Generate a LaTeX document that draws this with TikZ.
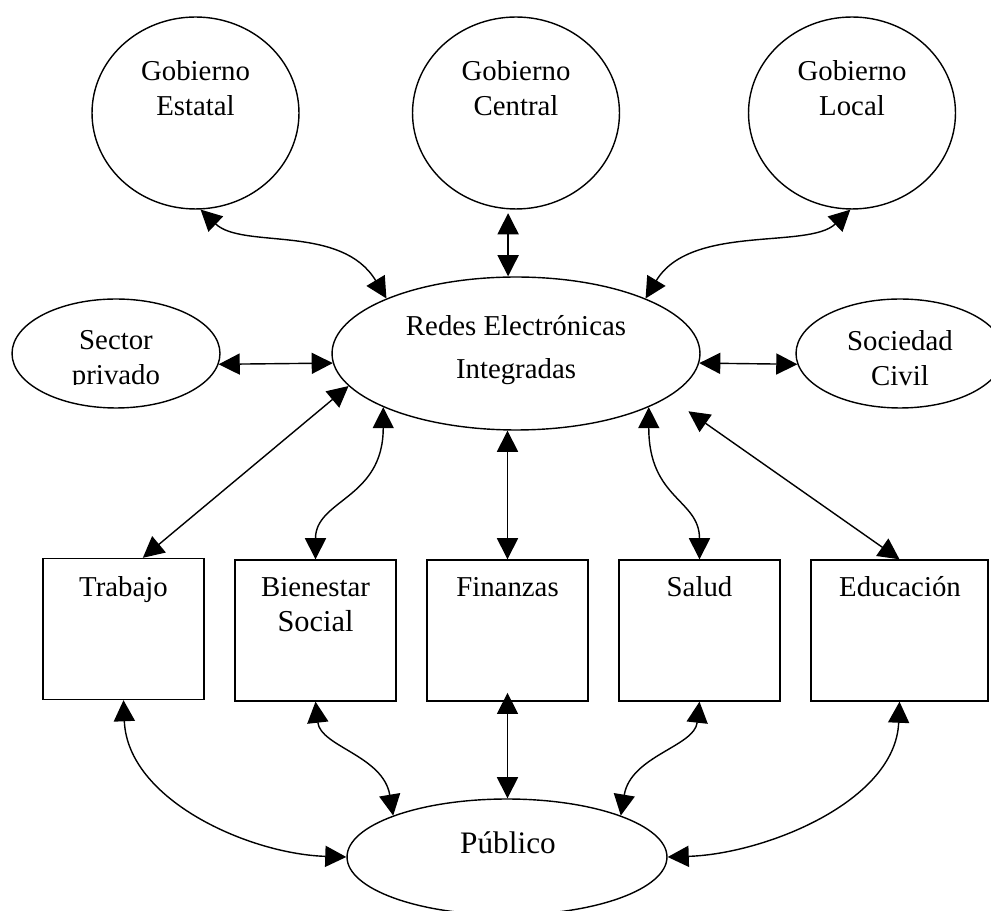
\documentclass[tikz,border=0pt]{standalone}
\usepackage{fontspec}
\setmainfont{Liberation Serif}
\usetikzlibrary{shapes.geometric,arrows.meta}
\begin{document}
\begin{tikzpicture}[x=0.02cm, y=-0.02cm, line width=0.8pt,
  >={Triangle[length=12pt,width=12pt]},
  gov/.style={draw, ellipse, inner sep=0pt,
              minimum width=4.14cm, minimum height=3.84cm},
  side/.style={draw, ellipse, inner sep=0pt,
               minimum width=4.16cm, minimum height=2.18cm},
  dept/.style={draw, rectangle, inner sep=0pt,
               minimum width=3.22cm, minimum height=2.82cm},
  lbl/.style={inner sep=0pt, align=center,
              font=\fontsize{16.4}{19.8}\selectfont},
  link/.style={<->}
]
\useasboundingbox (0,0) rectangle (991,911);
\node[gov] (gest) at (195.5,113) {};
\node[gov] (gcen) at (516,113) {};
\node[gov] (gloc) at (852,113) {};
\node[side] (sector) at (116,353.5) {};
\node[draw, ellipse, inner sep=0pt, minimum width=7.36cm, minimum height=3.06cm] (redes) at (516,353.5) {};
\node[side] (soc) at (900,353.5) {};
\node[dept] (trab) at (123.5,629) {};
\node[dept] (bien) at (315.5,630.5) {};
\node[dept] (fin) at (507.5,630.5) {};
\node[dept] (sal) at (699.5,630.5) {};
\node[dept, minimum width=3.54cm] (educ) at (899.5,630.5) {};
\node[draw, ellipse, inner sep=0pt, minimum width=6.4cm, minimum height=2.32cm] (pub) at (507,857) {};
% texts
\node[lbl, anchor=north] (gestT) at (195.5,60) {Gobierno\\Estatal};
\node[lbl, anchor=north] (gcenT) at (516,60) {Gobierno\\Central};
\node[lbl, anchor=north] (glocT) at (852,60) {Gobierno\\Local};
\begin{scope}
  \clip (0,0) rectangle (991,385);
  \node[lbl, anchor=north] (sectorT) at (116,330) {Sector\\privado};
\end{scope}
\node[lbl, anchor=north] (redesT) at (516,315) {Redes Electrónicas\\[4.4pt]Integradas};
\node[lbl, anchor=north] (socT) at (900,330) {Sociedad\\Civil};
\node[lbl, anchor=base] (trabT) at (123.5,597) {Trabajo};
\node[lbl, anchor=north] (bienT) at (315.5,577) {Bienestar\\{\fontsize{17.3}{19.8}\selectfont Social}};
\node[lbl, anchor=base] (finT) at (507.5,597) {Finanzas};
\node[lbl, anchor=base] (salT) at (699.5,597) {Salud};
\node[lbl, anchor=base] (educT) at (900,597) {Educación};
\node[lbl, anchor=base, font=\fontsize{17.8}{21}\selectfont] (pubT) at (508,854) {Público};
% links
\draw[link] (gest.-87) .. controls +(42,40) and +(-45,-75) .. (redes.157);
\draw[link, shorten <=2pt] ([xshift=-4.5pt]gcen.south) -- ([xshift=-4.5pt]redes.north);
\draw[link] (gloc.-91) .. controls +(-42,40) and +(45,-75) .. (redes.23);
\draw[link] (sector.-6) -- (redes.-177);
\draw[link] (redes.-3) -- (soc.-174);
\draw[link] (redes.-169) -- ([xshift=11pt]trab.north);
\draw[link] (redes.-158) .. controls +(0,92) and +(0,-60) .. (bien.north);
\draw[link] (fin.north) -- (fin.north |- redes.south);
\draw[link] (redes.-22) .. controls +(0,92) and +(0,-60) .. (sal.north);
\draw[link, shorten <=14pt] (redes.-16) -- (educ.north);
\draw[link] (trab.south) .. controls +(4,100) and +(-97,-3) .. (pub.west);
\draw[link] (bien.south) .. controls +(5,45) and +(-10,-60) .. (pub.160);
\draw[link, shorten <=-5pt] (fin.south) -- (fin.south |- pub.north);
\draw[link] (sal.south) .. controls +(-5,45) and +(10,-60) .. (pub.20);
\draw[link] (educ.south) .. controls +(-4,100) and +(97,-3) .. (pub.east);
\end{tikzpicture}
\end{document}
